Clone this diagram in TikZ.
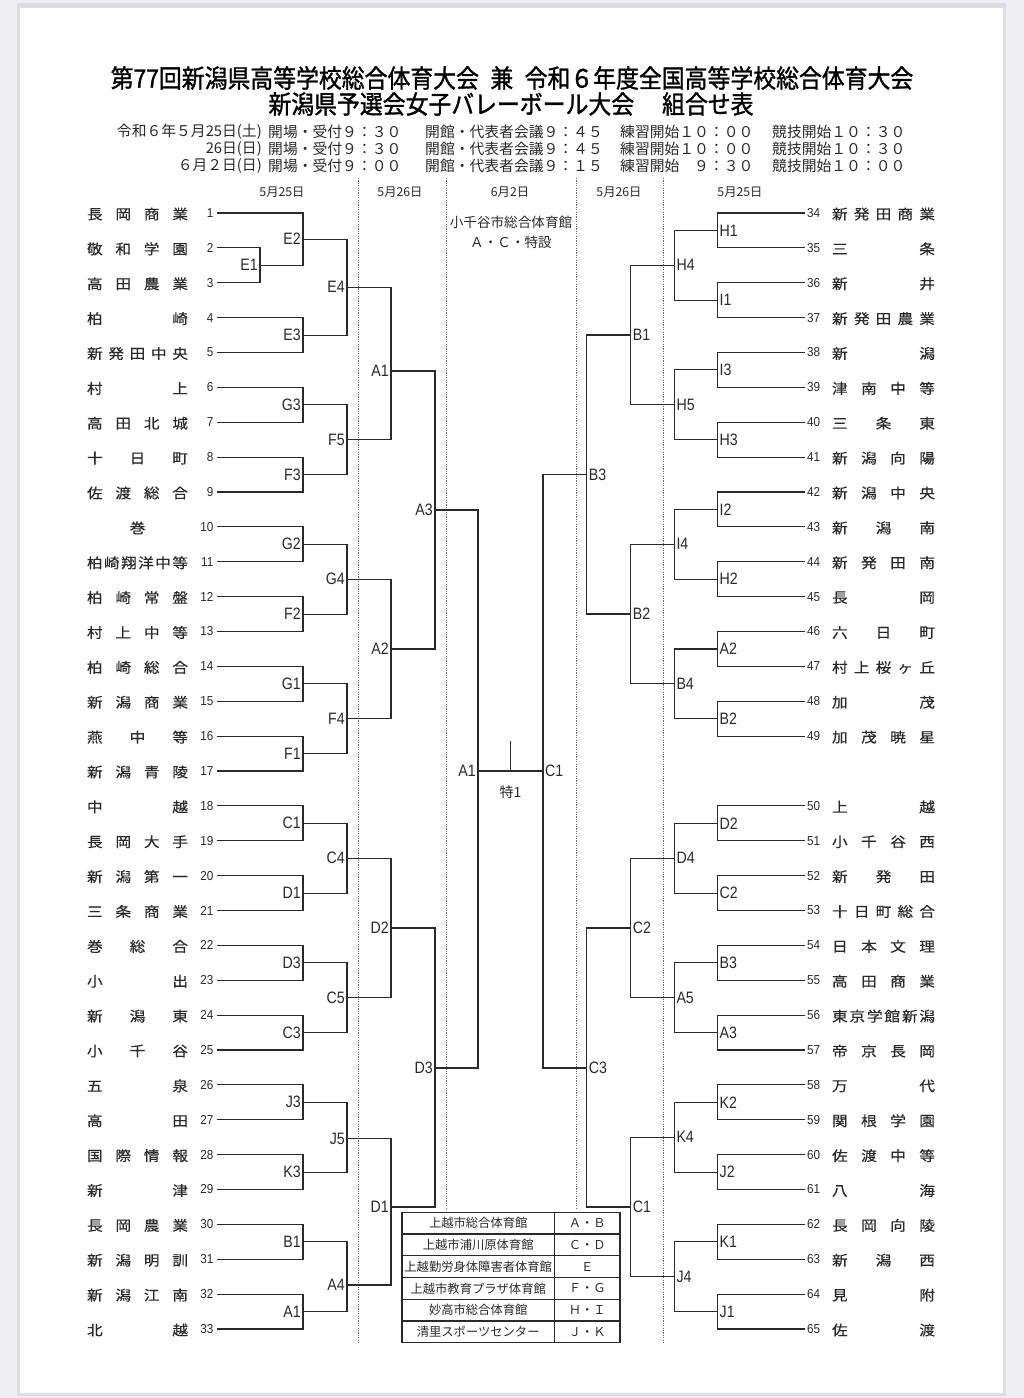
\documentclass[tikz,border=0pt]{standalone}
\usepackage{fontspec}
\newfontfamily\jp{Noto Sans CJK JP}
\newfontfamily\jpt[FakeStretch=0.9,FakeBold=1.2]{Noto Sans CJK JP}
\newfontfamily\tn[FakeStretch=1.12,FakeBold=0.4]{Noto Sans CJK JP}
\newfontfamily\lab[FakeStretch=0.86]{Liberation Sans}
\newfontfamily\numf[FakeStretch=0.9]{Liberation Sans}
\definecolor{bgc}{HTML}{EEEEF2}
\definecolor{shd}{HTML}{DCDCE2}
\definecolor{ink}{HTML}{2A2A2A}
\tikzset{
  br/.style={draw=ink,line width=1.15pt},
  lbl/.style={font=\lab\fontsize{16.5}{16.5}\selectfont,inner sep=0pt,text=ink},
  num/.style={font=\numf\fontsize{13}{13}\selectfont,inner sep=0pt,text=ink},
  tname/.style={font=\tn\fontsize{14}{14}\selectfont,inner sep=0pt,text=ink},
  sched/.style={font=\jp\fontsize{14.8}{15}\selectfont,inner sep=0pt,text=ink},
  datehd/.style={font=\jp\fontsize{12.3}{13}\selectfont,inner sep=0pt,text=ink},
  ttl/.style={font=\jpt\fontsize{25.4}{26}\selectfont,inner sep=0pt,text=black},
  tbltxt/.style={font=\jp\fontsize{12.3}{13}\selectfont,inner sep=0pt,text=ink},
  dotln/.style={draw=black!60,line width=0.9pt,dash pattern=on 1.2pt off 1.2pt},
  tblline/.style={draw=ink,line width=1.2pt}
}
\newcommand\mL[6]{\coordinate (#1) at (#2,#3);
  \draw[br] (#4) -| (#1) |- (#5);
  \node[lbl,anchor=east] (lb#1) at ([xshift=-2pt]#1) {#6};}
\newcommand\mR[6]{\coordinate (#1) at (#2,#3);
  \draw[br] (#4) -| (#1) |- (#5);
  \node[lbl,anchor=west] (lb#1) at ([xshift=2pt]#1) {#6};}
\begin{document}
\begin{tikzpicture}[x=1pt,y=-1pt]
\useasboundingbox (0,0) rectangle (1024,1398);
\fill[bgc] (0,0) rectangle (1024,1398);
\fill[shd] (17,3) rectangle (1006,1396);
\fill[white] (20,8) rectangle (1003,1393);

% titles
\node[ttl] (t1) at (512,78) {第77回新潟県高等学校総合体育大会\hspace{0.45em}兼\hspace{0.45em}令和６年度全国高等学校総合体育大会};
\node[ttl] (t2) at (511,104) {新潟県予選会女子バレーボール大会\hspace{1.1em}組合せ表};

% schedule
\node[sched,anchor=east] (d1) at (262,132) {令和６年５月25日(土)};
\node[sched,anchor=east] (d2) at (262,149) {26日(日)};
\node[sched,anchor=east] (d3) at (262,166) {６月２日(日)};
\node[sched,anchor=west] (a1) at (268,132) {開場・受付９：３０};
\node[sched,anchor=west] (a2) at (268,149) {開場・受付９：３０};
\node[sched,anchor=west] (a3) at (268,166) {開場・受付９：００};
\node[sched,anchor=west] (b1) at (425,132) {開館・代表者会議９：４５};
\node[sched,anchor=west] (b2) at (425,149) {開館・代表者会議９：４５};
\node[sched,anchor=west] (b3) at (425,166) {開館・代表者会議９：１５};
\node[sched,anchor=west] (c1) at (620,132) {練習開始１０：００};
\node[sched,anchor=west] (c2) at (620,149) {練習開始１０：００};
\node[sched,anchor=west] (c3) at (620,166) {練習開始　９：３０};
\node[sched,anchor=west] (e1) at (772,132) {競技開始１０：３０};
\node[sched,anchor=west] (e2) at (772,149) {競技開始１０：３０};
\node[sched,anchor=west] (e3) at (772,166) {競技開始１０：００};

% date headers
\node[datehd] (h1) at (282,192) {5月25日};
\node[datehd] (h2) at (400,192) {5月26日};
\node[datehd] (h3) at (510,192) {6月2日};
\node[datehd] (h4) at (619,192) {5月26日};
\node[datehd] (h5) at (740,192) {5月25日};
\node[font=\jp\fontsize{13.6}{14}\selectfont,inner sep=0pt,text=ink] (v1) at (511,222) {小千谷市総合体育館};
\node[font=\jp\fontsize{13.6}{14}\selectfont,inner sep=0pt,text=ink] (v2) at (511,242) {Ａ・Ｃ・特設};

% dotted separators
\coordinate (s1a) at (358,178); \coordinate (s1b) at (358,1343);
\coordinate (s2a) at (446,178); \coordinate (s2b) at (446,1208);
\coordinate (s3a) at (576,178); \coordinate (s3b) at (576,1208);
\coordinate (s4a) at (663,178); \coordinate (s4b) at (663,1343);
\draw[dotln] (s1a) -- (s1b);
\draw[dotln] (s2a) -- (s2b);
\draw[dotln] (s3a) -- (s3b);
\draw[dotln] (s4a) -- (s4b);

% left teams
\foreach \i/\nm in {1/長\hfill 岡\hfill 商\hfill 業,2/敬\hfill 和\hfill 学\hfill 園,3/高\hfill 田\hfill 農\hfill 業,4/柏\hfill 崎,5/新\hfill 発\hfill 田\hfill 中\hfill 央,6/村\hfill 上,7/高\hfill 田\hfill 北\hfill 城,8/十\hfill 日\hfill 町,9/佐\hfill 渡\hfill 総\hfill 合,10/\hfill 巻\hfill,11/柏\hfill 崎\hfill 翔\hfill 洋\hfill 中\hfill 等,12/柏\hfill 崎\hfill 常\hfill 盤,13/村\hfill 上\hfill 中\hfill 等,14/柏\hfill 崎\hfill 総\hfill 合,15/新\hfill 潟\hfill 商\hfill 業,16/燕\hfill 中\hfill 等,17/新\hfill 潟\hfill 青\hfill 陵,18/中\hfill 越,19/長\hfill 岡\hfill 大\hfill 手,20/新\hfill 潟\hfill 第\hfill 一,21/三\hfill 条\hfill 商\hfill 業,22/巻\hfill 総\hfill 合,23/小\hfill 出,24/新\hfill 潟\hfill 東,25/小\hfill 千\hfill 谷,26/五\hfill 泉,27/高\hfill 田,28/国\hfill 際\hfill 情\hfill 報,29/新\hfill 津,30/長\hfill 岡\hfill 農\hfill 業,31/新\hfill 潟\hfill 明\hfill 訓,32/新\hfill 潟\hfill 江\hfill 南,33/北\hfill 越}{
  \pgfmathsetmacro\yy{213+(\i-1)*34.875}
  \node[num,anchor=east] (noL\i) at (213.5,\yy) {\i};
  \coordinate (tL\i) at (217,\yy);
  \node[tname] (nmL\i) at (137.5,\yy+1) {\makebox[101pt][s]{\nm}};
}
% right teams
\foreach \i/\nm in {34/新\hfill 発\hfill 田\hfill 商\hfill 業,35/三\hfill 条,36/新\hfill 井,37/新\hfill 発\hfill 田\hfill 農\hfill 業,38/新\hfill 潟,39/津\hfill 南\hfill 中\hfill 等,40/三\hfill 条\hfill 東,41/新\hfill 潟\hfill 向\hfill 陽,42/新\hfill 潟\hfill 中\hfill 央,43/新\hfill 潟\hfill 南,44/新\hfill 発\hfill 田\hfill 南,45/長\hfill 岡,46/六\hfill 日\hfill 町,47/村\hfill 上\hfill 桜\hfill ヶ\hfill 丘,48/加\hfill 茂,49/加\hfill 茂\hfill 暁\hfill 星}{
  \pgfmathsetmacro\yy{213+(\i-34)*34.875}
  \node[num,anchor=west] (noR\i) at (807,\yy) {\i};
  \coordinate (tR\i) at (805,\yy);
  \node[tname] (nmR\i) at (883.5,\yy+1) {\makebox[103pt][s]{\nm}};
}
\foreach \i/\nm in {50/上\hfill 越,51/小\hfill 千\hfill 谷\hfill 西,52/新\hfill 発\hfill 田,53/十\hfill 日\hfill 町\hfill 総\hfill 合,54/日\hfill 本\hfill 文\hfill 理,55/高\hfill 田\hfill 商\hfill 業,56/東\hfill 京\hfill 学\hfill 館\hfill 新\hfill 潟,57/帝\hfill 京\hfill 長\hfill 岡,58/万\hfill 代,59/関\hfill 根\hfill 学\hfill 園,60/佐\hfill 渡\hfill 中\hfill 等,61/八\hfill 海,62/長\hfill 岡\hfill 向\hfill 陵,63/新\hfill 潟\hfill 西,64/見\hfill 附,65/佐\hfill 渡}{
  \pgfmathsetmacro\yy{213+(\i-33)*34.875}
  \node[num,anchor=west] (noR\i) at (807,\yy) {\i};
  \coordinate (tR\i) at (805,\yy);
  \node[tname] (nmR\i) at (883.5,\yy+1) {\makebox[103pt][s]{\nm}};
}

% left bracket
\mL{lE1}{260}{265.3}{tL2}{tL3}{E1}
\mL{lE2}{303}{239.2}{tL1}{lE1}{E2}
\mL{lE3}{303}{335.1}{tL4}{tL5}{E3}
\mL{lE4}{347}{287.2}{lE2}{lE3}{E4}
\mL{lG3}{303}{404.8}{tL6}{tL7}{G3}
\mL{lF3}{303}{474.6}{tL8}{tL9}{F3}
\mL{lF5}{347}{439.7}{lG3}{lF3}{F5}
\mL{lA1}{391}{371}{lE4}{lF5}{A1}
\mL{lG2}{303}{544.3}{tL10}{tL11}{G2}
\mL{lF2}{303}{614.1}{tL12}{tL13}{F2}
\mL{lG4}{347}{579.2}{lG2}{lF2}{G4}
\mL{lG1}{303}{683.8}{tL14}{tL15}{G1}
\mL{lF1}{303}{753.6}{tL16}{tL17}{F1}
\mL{lF4}{347}{718.7}{lG1}{lF1}{F4}
\mL{lA2}{391}{649}{lG4}{lF4}{A2}
\mL{lA3}{435}{510}{lA1}{lA2}{A3}
\mL{lC1}{303}{823.3}{tL18}{tL19}{C1}
\mL{lD1a}{303}{893.1}{tL20}{tL21}{D1}
\mL{lC4}{347}{858.2}{lC1}{lD1a}{C4}
\mL{lD3a}{303}{962.8}{tL22}{tL23}{D3}
\mL{lC3}{303}{1032.6}{tL24}{tL25}{C3}
\mL{lC5}{347}{997.7}{lD3a}{lC3}{C5}
\mL{lD2}{391}{928}{lC4}{lC5}{D2}
\mL{lJ3}{303}{1102.3}{tL26}{tL27}{J3}
\mL{lK3}{303}{1172.1}{tL28}{tL29}{K3}
\mL{lJ5}{347}{1138.5}{lJ3}{lK3}{J5}
\mL{lB1}{303}{1241.8}{tL30}{tL31}{B1}
\mL{lA1a}{303}{1311.6}{tL32}{tL33}{A1}
\mL{lA4}{347}{1285}{lB1}{lA1a}{A4}
\mL{lD1}{391}{1207}{lJ5}{lA4}{D1}
\mL{lD3}{435}{1068}{lD2}{lD1}{D3}
\mL{cA}{478}{771}{lA3}{lD3}{A1}

% right bracket
\mR{rH1}{717.5}{230.4}{tR34}{tR35}{H1}
\mR{rI1}{717.5}{300.2}{tR36}{tR37}{I1}
\mR{rH4}{674.3}{265.3}{rH1}{rI1}{H4}
\mR{rI3}{717.5}{369.9}{tR38}{tR39}{I3}
\mR{rH3}{717.5}{439.7}{tR40}{tR41}{H3}
\mR{rH5}{674.3}{404.8}{rI3}{rH3}{H5}
\mR{rB1}{630.7}{335}{rH4}{rH5}{B1}
\mR{rI2}{717.5}{509.4}{tR42}{tR43}{I2}
\mR{rH2}{717.5}{579.2}{tR44}{tR45}{H2}
\mR{rI4}{674.3}{544.3}{rI2}{rH2}{I4}
\mR{rA2}{717.5}{649}{tR46}{tR47}{A2}
\mR{rB2a}{717.5}{718.7}{tR48}{tR49}{B2}
\mR{rB4}{674.3}{683.8}{rA2}{rB2a}{B4}
\mR{rB2}{630.7}{614}{rI4}{rB4}{B2}
\mR{rB3}{586.7}{474.5}{rB1}{rB2}{B3}
\mR{rD2}{717.5}{823.3}{tR50}{tR51}{D2}
\mR{rC2a}{717.5}{893.1}{tR52}{tR53}{C2}
\mR{rD4}{674.3}{858.2}{rD2}{rC2a}{D4}
\mR{rB3a}{717.5}{962.8}{tR54}{tR55}{B3}
\mR{rA3}{717.5}{1032.6}{tR56}{tR57}{A3}
\mR{rA5}{674.3}{997.7}{rB3a}{rA3}{A5}
\mR{rC2}{630.7}{928}{rD4}{rA5}{C2}
\mR{rK2}{717.5}{1102.3}{tR58}{tR59}{K2}
\mR{rJ2}{717.5}{1172.1}{tR60}{tR61}{J2}
\mR{rK4}{674.3}{1137.2}{rK2}{rJ2}{K4}
\mR{rK1}{717.5}{1241.8}{tR62}{tR63}{K1}
\mR{rJ1}{717.5}{1311.6}{tR64}{tR65}{J1}
\mR{rJ4}{674.3}{1276.7}{rK1}{rJ1}{J4}
\mR{rC1}{630.7}{1207}{rK4}{rJ4}{C1}
\mR{rC3}{586.7}{1068}{rC2}{rC1}{C3}
\mR{cC}{543}{771}{rB3}{rC3}{C1}

% final
\draw[br] (cA) -- (cC);
\coordinate (tk) at (510.5,741);
\draw[br] (tk) -- (tk |- cA);
\node[font=\jp\fontsize{14}{14}\selectfont,inner sep=0pt,text=ink] (sp1) at (510.5,792) {特1};

% venue table
\coordinate (tbA) at (402,1212.3);
\coordinate (tbB) at (620,1342.7);
\fill[white] (tbA) rectangle (tbB);
\draw[tblline] (tbA) rectangle (tbB);
\draw[tblline] (554.3,1212.3) -- (554.3,1342.7);
\foreach \yy in {1234,1255.7,1277.4,1299.1,1320.9}{\draw[tblline] (402,\yy) -- (620,\yy);}
\foreach \k/\a/\b in {1/上越市総合体育館/Ａ・Ｂ,2/上越市浦川原体育館/Ｃ・Ｄ,3/上越勤労身体障害者体育館/Ｅ,4/上越市教育プラザ体育館/Ｆ・Ｇ,5/妙高市総合体育館/Ｈ・Ｉ,6/清里スポーツセンター/Ｊ・Ｋ}{
  \pgfmathsetmacro\yy{1212.3+(\k-0.5)*21.73}
  \node[tbltxt] (va\k) at (478.2,\yy) {\a};
  \node[tbltxt] (vb\k) at (587.2,\yy) {\b};
}
\end{tikzpicture}
\end{document}
